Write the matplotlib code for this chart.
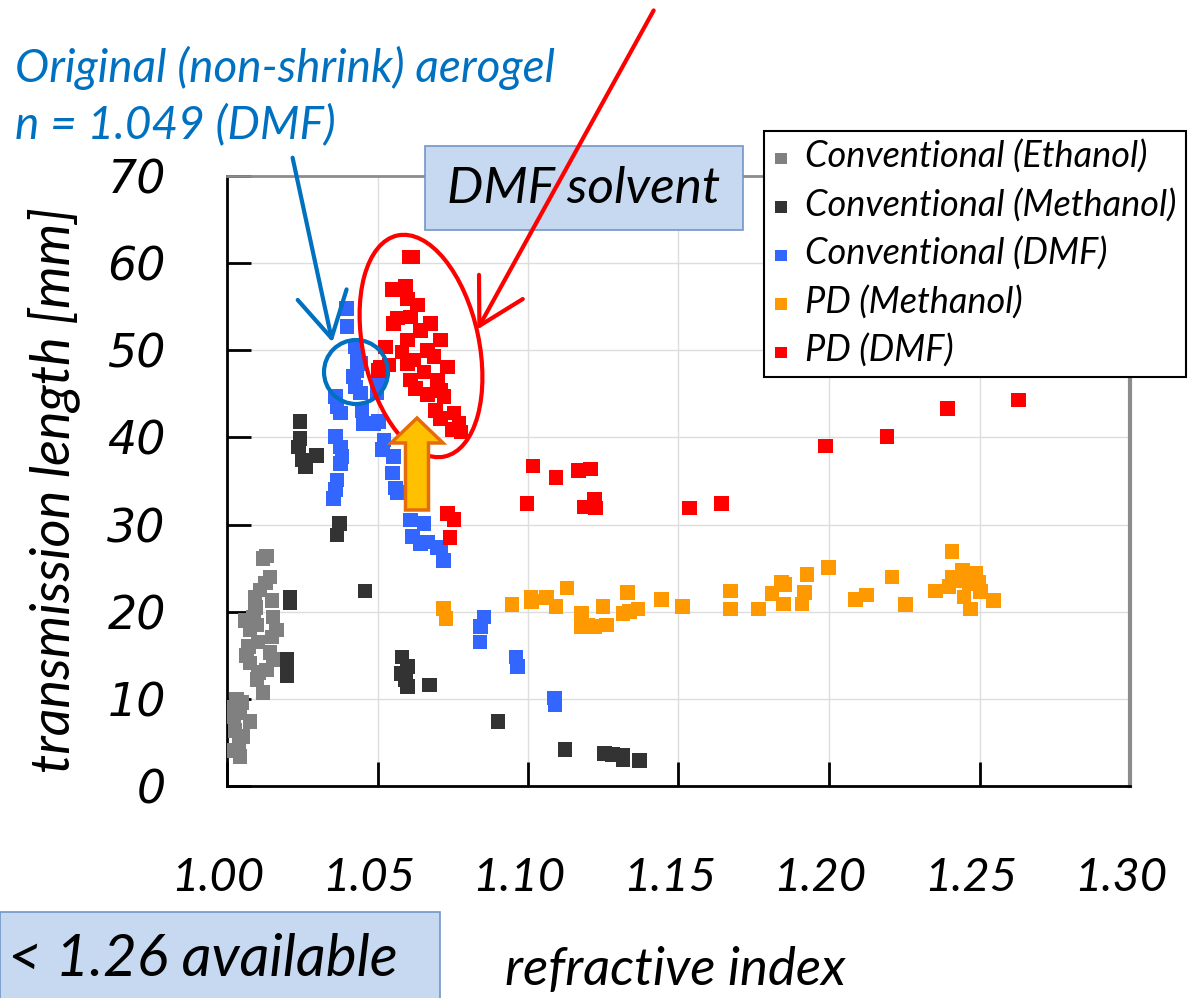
import numpy as np
import matplotlib
matplotlib.use("Agg")
import matplotlib.pyplot as plt
from matplotlib.patches import Rectangle, Ellipse, FancyArrowPatch, FancyArrow
from matplotlib.transforms import IdentityTransform, ScaledTranslation
from matplotlib.font_manager import FontProperties

# ---- data ----
eth_n = [1.0132, 1.0143, 1.0120, 1.0127, 1.0093, 1.0149, 1.0110, 1.0095, 1.0088, 1.0153,
         1.0100, 1.0060, 1.0077, 1.0165, 1.0149, 1.0103, 1.0071, 1.0065, 1.0143, 1.0077,
         1.0153, 1.0132, 1.0105, 1.0099, 1.0120, 1.0032, 1.0050, 1.0025, 1.0043, 1.0023,
         1.0077, 1.0027, 1.0053, 1.0040, 1.0020, 1.0043]
eth_y = [26.4, 24.0, 26.1, 23.3, 21.7, 21.3, 22.5, 20.5, 19.4, 19.4,
         18.5, 19.0, 17.9, 17.9, 17.1, 16.5, 16.0, 15.0, 15.3, 14.1,
         14.5, 13.3, 13.0, 12.2, 10.7, 9.9, 9.6, 9.0, 8.4, 8.0,
         7.4, 6.4, 5.7, 5.0, 4.1, 3.4]

meth_n = [1.0243, 1.0243, 1.0238, 1.0249, 1.0260, 1.0297, 1.0374, 1.0366, 1.0210, 1.0210,
          1.0199, 1.0199, 1.0199, 1.0458, 1.0582, 1.0599, 1.0593, 1.0580, 1.0599, 1.0672,
          1.0901, 1.1123, 1.1254, 1.1280, 1.1316, 1.1316, 1.1371]
meth_y = [41.8, 39.9, 38.9, 37.4, 36.6, 37.9, 30.1, 28.8, 21.7, 21.0,
          14.5, 13.3, 12.7, 22.4, 14.8, 13.7, 12.2, 12.9, 11.4, 11.6,
          7.4, 4.2, 3.7, 3.6, 3.0, 3.5, 2.9]

dmf_n = [1.0397, 1.0399, 1.0427, 1.0432, 1.0421, 1.0432, 1.0427, 1.0443, 1.0499, 1.0505,
         1.0445, 1.0360, 1.0366, 1.0377, 1.0449, 1.0454, 1.0488, 1.0504, 1.0360, 1.0377,
         1.0382, 1.0377, 1.0366, 1.0360, 1.0354, 1.0521, 1.0516, 1.0554, 1.0549, 1.0560,
         1.0566, 1.0610, 1.0654, 1.0616, 1.0666, 1.0699, 1.0719, 1.0643, 1.0710, 1.0854,
         1.0843, 1.0841, 1.0960, 1.0966, 1.1088, 1.1090]
dmf_y = [54.8, 52.7, 50.4, 49.3, 47.0, 47.7, 45.8, 45.1, 45.1, 46.5,
         48.5, 44.7, 43.5, 42.8, 43.1, 41.6, 41.6, 41.8, 40.1, 38.9,
         37.8, 37.0, 35.1, 34.0, 33.0, 39.7, 38.6, 37.8, 35.9, 34.2,
         33.7, 30.5, 30.1, 28.6, 28.0, 27.4, 25.9, 27.8, 27.4, 19.4,
         18.3, 16.5, 14.8, 13.7, 10.1, 9.3]

pd_meth_n = [1.0719, 1.0727, 1.0947, 1.1010, 1.1012, 1.1062, 1.1093, 1.1130, 1.1177, 1.1177,
             1.1199, 1.1221, 1.1260, 1.1249, 1.1316, 1.1338, 1.1366, 1.1330, 1.1443, 1.1513,
             1.1673, 1.1673, 1.1766, 1.1810, 1.1843, 1.1854, 1.1849, 1.1910, 1.1919, 1.1927,
             1.1999, 1.2088, 1.2124, 1.2210, 1.2254, 1.2354, 1.2408, 1.2410, 1.2443, 1.2421,
             1.2488, 1.2466, 1.2449, 1.2504, 1.2471, 1.2546, 1.2399, 1.2499]
pd_meth_y = [20.4, 19.2, 20.8, 21.7, 21.2, 21.6, 20.6, 22.7, 19.8, 18.3,
             18.5, 18.3, 18.5, 20.6, 19.8, 20.0, 20.3, 22.2, 21.4, 20.6,
             22.4, 20.3, 20.3, 22.1, 23.4, 23.1, 20.9, 20.9, 22.2, 24.3,
             25.1, 21.4, 21.9, 24.0, 20.8, 22.4, 26.9, 24.0, 24.8, 23.6,
             24.4, 23.2, 21.7, 22.3, 20.3, 21.3, 22.9, 23.4]

pd_dmf_n = [1.0604, 1.0617, 1.0549, 1.0593, 1.0599, 1.0632, 1.0566, 1.0554, 1.0610, 1.0677,
            1.0643, 1.0710, 1.0599, 1.0527, 1.0582, 1.0666, 1.0621, 1.0688, 1.0538, 1.0504,
            1.0599, 1.0732, 1.0654, 1.0610, 1.0699, 1.0627, 1.0710, 1.0666, 1.0721, 1.0693,
            1.0754, 1.0710, 1.0771, 1.0749, 1.0777, 1.0510, 1.0732, 1.0754, 1.0741, 1.1016,
            1.1093, 1.1168, 1.1208, 1.0997, 1.1188, 1.1221, 1.1224, 1.1536, 1.1643, 1.1988,
            1.2193, 1.2393, 1.2630]
pd_dmf_y = [60.7, 60.7, 57.0, 57.3, 55.9, 55.2, 53.7, 53.1, 53.8, 53.1,
            52.3, 51.2, 51.2, 50.4, 49.8, 50.0, 48.9, 49.3, 48.3, 47.7,
            48.5, 48.1, 47.5, 46.6, 46.6, 45.6, 45.4, 44.9, 44.7, 43.1,
            42.8, 42.2, 41.6, 40.9, 40.6, 48.1, 31.3, 30.6, 28.5, 36.7,
            35.4, 36.2, 36.4, 32.4, 32.0, 32.9, 31.9, 31.9, 32.4, 39.0,
            40.1, 43.3, 44.3]

series = [
    ("Conventional (Ethanol)", eth_n, eth_y, "#808080"),
    ("Conventional (Methanol)", meth_n, meth_y, "#333333"),
    ("Conventional (DMF)", dmf_n, dmf_y, "#3366FF"),
    ("PD (Methanol)", pd_meth_n, pd_meth_y, "#FF9900"),
    ("PD (DMF)", pd_dmf_n, pd_dmf_y, "#FF0000"),
]

x_ticks = [1.00, 1.05, 1.10, 1.15, 1.20, 1.25, 1.30]
y_ticks = [0, 10, 20, 30, 40, 50, 60, 70]

W, H = 1188, 998


def fx(px):
    return px / W


def fy(py):
    return 1 - py / H


def pix(px, py):
    # picture pixel (top-left origin) -> display pixel
    return (px, H - py)


fig = plt.figure(figsize=(W / 100, H / 100), dpi=100)
ax = fig.add_axes([227 / W, (H - 786) / H, 903 / W, 610 / H])

for label, xs, ys, col in series:
    ax.scatter(xs, ys, marker="s", s=110, color=col, edgecolors="none", label=label, zorder=3)

ax.set_xlim(1.0, 1.3)
ax.set_ylim(0, 70)
ax.set_xticks(x_ticks)
ax.set_yticks(y_ticks)
ax.set_xticklabels([f"{v:.2f}" for v in x_ticks])
ax.grid(True, color="#DDDDDD", lw=1)
ax.set_axisbelow(True)
ax.tick_params(direction="in", length=17, width=2, colors="black")
ax.tick_params(axis="x", pad=51)
ax.tick_params(axis="y", pad=44)
shift = ScaledTranslation(-9 / 100, 0, fig.dpi_scale_trans)
for t in ax.get_xticklabels():
    t.set_fontproperties(FontProperties(family="Lato", style="italic", size=34))
    t.set_transform(t.get_transform() + shift)
for t in ax.get_yticklabels():
    t.set_fontproperties(FontProperties(family="DejaVu Sans", style="italic", size=33))

ax.spines["left"].set_color("black")
ax.spines["bottom"].set_color("black")
ax.spines["left"].set_linewidth(2)
ax.spines["bottom"].set_linewidth(2)
ax.spines["top"].set_color("#8C8C8C")
ax.spines["top"].set_linewidth(2)
ax.spines["right"].set_color("#8C8C8C")
ax.spines["right"].set_linewidth(3)

ax.set_ylabel("transmission length [mm]", fontsize=39, family="Lato", style="italic")
ax.yaxis.set_label_coords(-0.163, 0.485)
ax.set_xlabel("refractive index", fontsize=38, family="Lato", style="italic")
ax.xaxis.set_label_coords(0.496, -0.262)

leg = ax.legend(loc="upper right", bbox_to_anchor=(1186 / W, fy(131)),
                bbox_transform=fig.transFigure, borderaxespad=0,
                prop=FontProperties(family="Lato", style="italic", size=26),
                frameon=True, fancybox=False, framealpha=1, edgecolor="black",
                handlelength=0.45, handletextpad=0.45, labelspacing=0.4,
                borderpad=0.25, scatterpoints=1)
leg.get_frame().set_linewidth(1.5)
for h in leg.legend_handles:
    h.set_sizes([70])

# ---- annotations ----
ident = IdentityTransform()

# DMF solvent box
fig.add_artist(Rectangle(pix(425, 230), 318, 84, transform=ident,
                         fc="#C6D9F1", ec="#7396C8", lw=1.2, zorder=2))
fig.text(fx(584), fy(189), "DMF solvent", ha="center", va="center",
         fontsize=37, family="Lato", style="italic", zorder=3)

# < 1.26 available box
fig.add_artist(Rectangle(pix(0, 1000), 440, 88, transform=ident,
                         fc="#C6D9F1", ec="#7396C8", lw=1.2, zorder=2))
fig.text(fx(8), fy(960), "< 1.26 available", ha="left", va="center",
         fontsize=42, family="Lato", style="italic", zorder=3)

# blue note
fig.text(fx(15), fy(68), "Original (non-shrink) aerogel", ha="left", va="center",
         fontsize=33, family="Lato", style="italic", color="#0070C0")
fig.text(fx(15), fy(125), "n = 1.049 (DMF)", ha="left", va="center",
         fontsize=33, family="Lato", style="italic", color="#0070C0")

fig.add_artist(Ellipse(pix(356, 372), 64, 64, transform=ident, fill=False,
                       ec="#0070C0", lw=3, zorder=4))
fig.add_artist(FancyArrowPatch(pix(292, 155), pix(333, 345), transform=ident,
                               arrowstyle="->,head_length=1.6,head_width=0.9",
                               mutation_scale=20, color="#0070C0", lw=3, zorder=4))

# red ellipse and arrow
fig.add_artist(Ellipse(pix(421, 346), 116, 226, angle=12, transform=ident, fill=False,
                       ec="#FF0000", lw=3, zorder=4))
fig.add_artist(FancyArrowPatch(pix(655, 8), pix(476, 332), transform=ident,
                               arrowstyle="->,head_length=1.6,head_width=0.9",
                               mutation_scale=20, color="#FF0000", lw=3, zorder=5))

# orange up arrow
fig.add_artist(FancyArrow(417, H - 510, 0, 92, width=23, head_width=52, head_length=25,
                          length_includes_head=True, transform=ident,
                          fc="#FFC000", ec="#E46C0A", lw=2.5, zorder=4))

fig.savefig("out.png", dpi=100)
